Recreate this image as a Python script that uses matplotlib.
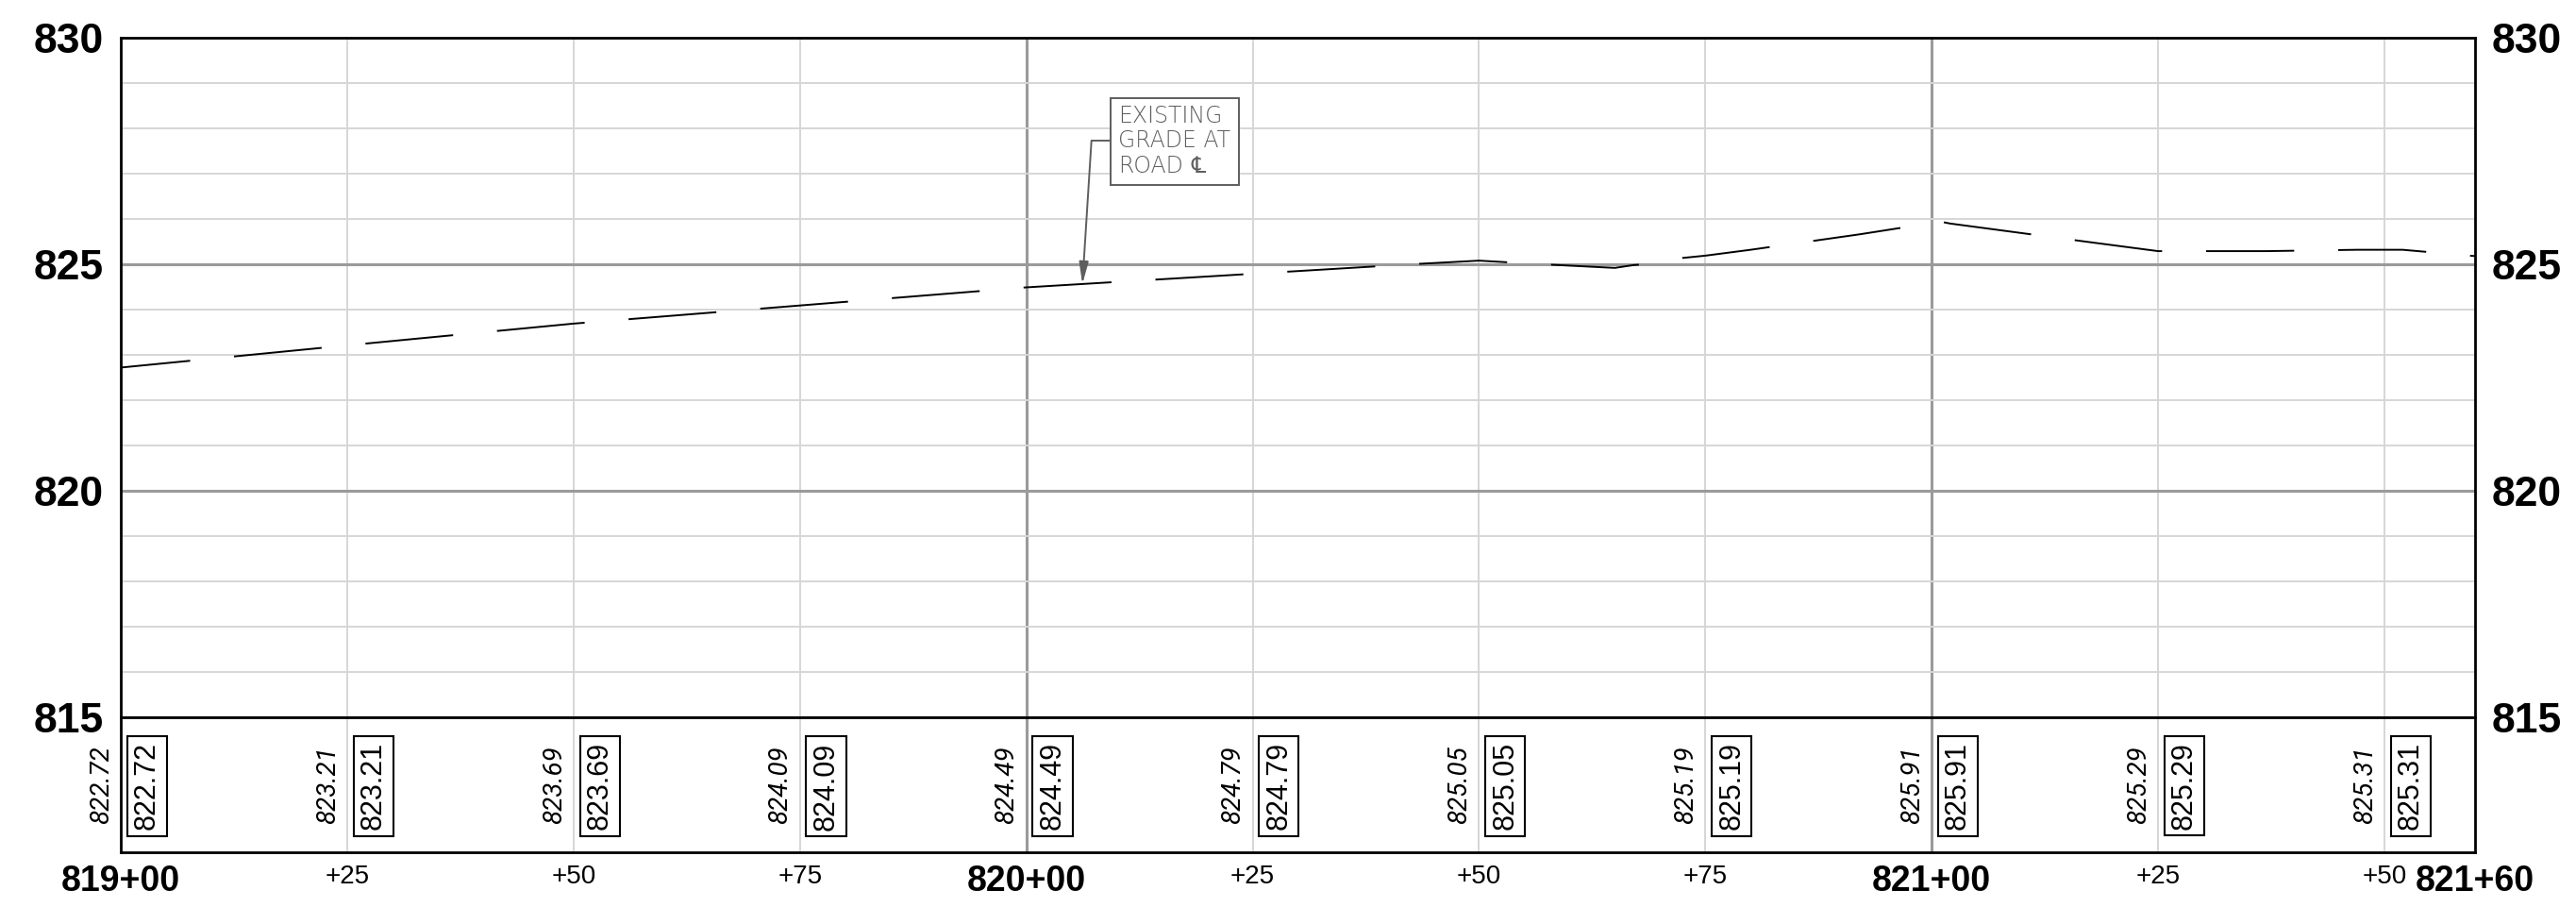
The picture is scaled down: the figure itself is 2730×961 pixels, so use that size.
import numpy as np
import matplotlib.pyplot as plt
from matplotlib import font_manager as fm
from matplotlib.ft2font import FT2Font
from matplotlib.patches import Rectangle

# stations are offsets in feet from 819+00
label_sta = [0, 25, 50, 75, 100, 125, 150, 175, 200, 225, 250]
exist_elev = [822.72, 823.21, 823.69, 824.09, 824.49, 824.79,
              825.05, 825.19, 825.91, 825.29, 825.31]
grade_elev = [822.72, 823.21, 823.69, 824.09, 824.49, 824.79,
              825.05, 825.19, 825.91, 825.29, 825.31]

# existing ground at road centreline
profile_sta = [0, 25, 50, 75, 100, 125, 142.5, 150, 157, 162, 165, 167,
               170, 172.5, 175, 180, 192, 200, 201, 202, 217, 225, 231,
               237, 247, 252, 260]
profile_elev = [822.72, 823.21, 823.69, 824.09, 824.49, 824.79, 825.00,
                825.08, 825.00, 824.95, 824.92, 824.98, 825.03, 825.14,
                825.19, 825.32, 825.66, 825.91, 825.94, 825.90, 825.50,
                825.29, 825.29, 825.29, 825.32, 825.32, 825.18]

station_ticks = [0, 25, 50, 75, 100, 125, 150, 175, 200, 225, 250, 260]
station_labels = ["819+00", "+25", "+50", "+75", "820+00", "+25", "+50",
                  "+75", "821+00", "+25", "+50", "821+60"]
elev_ticks = [815, 820, 825, 830]
note_lines = ["EXISTING", "GRADE AT", "ROAD"]

W, H = 2730, 961
MINOR = "#d6d6d6"
MAJOR = "#9a9a9a"
NOTE = "#5e5e5e"
CL = "\u2104"


def has_family(name):
    try:
        fm.findfont(fm.FontProperties(family=name), fallback_to_default=False)
        return True
    except ValueError:
        return False


def font_with(ch):
    # prefer a regular DejaVu face, then anything else that has the glyph
    entries = sorted(fm.fontManager.ttflist,
                     key=lambda f: (f.name != "DejaVu Sans",
                                    f.weight not in (400, "normal"),
                                    f.style != "normal"))
    for f in entries:
        try:
            if ord(ch) in FT2Font(f.fname).get_charmap():
                return f.fname
        except Exception:
            pass
    return None


narrow = "Liberation Sans Narrow" if has_family("Liberation Sans Narrow") else None
cl_file = font_with(CL)

plt.rcParams["font.family"] = ["Liberation Sans", "DejaVu Sans"]

fig = plt.figure(figsize=(W / 100, H / 100), dpi=100)
ax = fig.add_axes([128 / W, 201 / H, 2495 / W, 720 / H])
strip = fig.add_axes([128 / W, 58 / H, 2495 / W, 143 / H])

for a in (ax, strip):
    a.set_xlim(0, 260)
    for sp in a.spines.values():
        sp.set_linewidth(2.0)
        sp.set_color("black")
    for s in range(25, 260, 25):
        major = s % 100 == 0
        a.axvline(s, color=MAJOR if major else MINOR,
                  lw=2.2 if major else 1.4, zorder=1)

ax.set_ylim(815, 830)
for e in range(816, 830):
    major = e % 5 == 0
    ax.axhline(e, color=MAJOR if major else MINOR,
               lw=2.2 if major else 1.4, zorder=1)

ax.plot(profile_sta, profile_elev, color="black", lw=1.4,
        ls=(10, (48, 24)), zorder=3)

# elevation labels on both sides
ax.set_xticks([])
ax.set_yticks(elev_ticks)
ax.set_yticklabels([str(v) for v in elev_ticks])
ax.tick_params(axis="y", length=0, pad=13, labelsize=32,
               labelleft=True, labelright=True)
for t in ax.yaxis.get_major_ticks():
    t.label1.set_fontweight("bold")
    t.label2.set_fontweight("bold")

# callout box, one text per line
note_kw = dict(fontsize=17, color=NOTE, family="DejaVu Sans",
               fontweight="light", ha="left", va="baseline", zorder=6)
ax.add_patch(Rectangle((109.33, 826.75), 14.2, 1.92, fc="white", ec=NOTE,
                       lw=1.4, zorder=5))
for line, base in zip(note_lines, [828.125, 827.583, 827.02]):
    ax.text(110.15, base, line, **note_kw)
if cl_file:
    ax.text(118.2, 827.02, CL, ha="left", va="baseline", color=NOTE,
            fontproperties=fm.FontProperties(fname=cl_file, size=17),
            zorder=6)
else:
    ax.text(118.2, 827.02, "C", **note_kw)
    ax.text(118.7, 826.92, "L", **note_kw)

tip_sta = 106.2
tip_elev = float(np.interp(tip_sta, profile_sta, profile_elev))
ax.plot([107.2, 109.33], [827.73, 827.73], color=NOTE, lw=1.4, zorder=4)
ax.annotate("", xy=(tip_sta, tip_elev), xytext=(107.2, 827.73),
            arrowprops=dict(arrowstyle="-|>,head_length=0.7,head_width=0.15",
                            color=NOTE, lw=1.4, mutation_scale=20,
                            shrinkA=0, shrinkB=0), zorder=4)

# elevation strip
strip.set_ylim(0, 1)
strip.set_yticks([])
for s, ex, gr in zip(label_sta, exist_elev, grade_elev):
    strip.text(s - 2.1, 0.5, f"{ex:.2f}", rotation=90, ha="center",
               va="center", fontsize=20, style="italic",
               family="Roboto", color="black")
    strip.text(s + 2.9, 0.49, f"{gr:.2f}", rotation=90, ha="center",
               va="center", fontsize=22, color="black",
               bbox=dict(boxstyle="square,pad=0.2", fc="white", ec="black",
                         lw=1.5))

strip.set_xticks(station_ticks)
strip.set_xticklabels(station_labels)
strip.tick_params(axis="x", length=0, pad=9)
for lab in strip.get_xticklabels():
    if lab.get_text().startswith("+"):
        lab.set_fontsize(20)
    else:
        lab.set_fontweight("bold")
        if narrow:
            lab.set_family(narrow)
            lab.set_fontsize(32)
        else:
            lab.set_fontsize(27)

fig.savefig("out.png", dpi=100, facecolor="white")
